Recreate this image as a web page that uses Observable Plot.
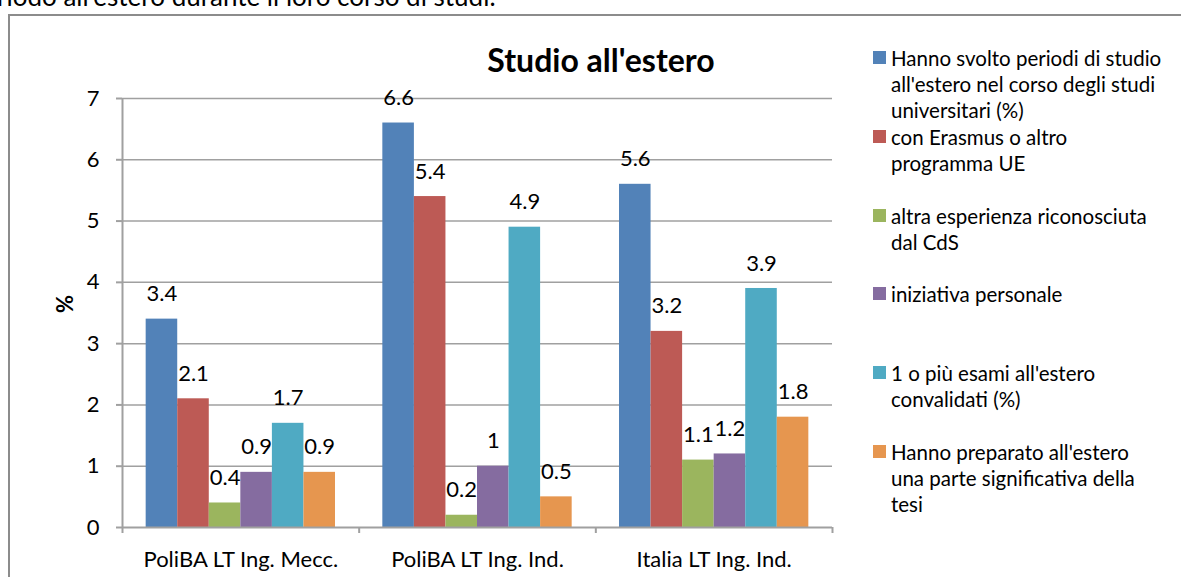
<!DOCTYPE html>
<html><head><meta charset="utf-8">
<script src="https://cdn.jsdelivr.net/npm/d3@7"></script>
<script src="https://cdn.jsdelivr.net/npm/@observablehq/plot@0.6"></script>
<style>
body{margin:0;background:#fff;font-family:Lato,"Open Sans",sans-serif;}
#wrap{position:relative;width:1181px;height:577px;overflow:hidden;}
#top{position:absolute;left:-3px;top:-17px;font-size:26px;line-height:26px;white-space:nowrap;color:#000;}
#frame{position:absolute;left:8px;top:14px;width:1200px;height:600px;border-left:2px solid #8c8c8c;border-top:2px solid #8c8c8c;}
#title{position:absolute;left:0;width:1202px;top:40px;text-align:center;font-size:32px;font-weight:bold;line-height:40px;}
#chart{position:absolute;left:0;top:0;}
#legend{position:absolute;left:873px;top:45px;font-size:20.5px;line-height:26px;}
.item{position:absolute;left:0;width:310px;}
.sw{position:absolute;left:0;top:6px;width:13px;height:13px;}
.lab{position:absolute;left:18px;top:0;width:300px;white-space:pre-line;}
</style></head>
<body>
<div id="wrap">
<div id="top">riodo all'estero durante il loro corso di studi.</div>
<div id="frame"></div>
<div id="chart"></div>
<div id="title">Studio all'estero</div>
<div id="legend"></div>
</div>
<script>
const categories = ["PoliBA LT Ing. Mecc.", "PoliBA LT Ing. Ind.", "Italia LT Ing. Ind."];
const legendLabels = [
  "Hanno svolto periodi di studio\nall'estero nel corso degli studi\nuniversitari (%)",
  "con Erasmus o altro\nprogramma UE",
  "altra esperienza riconosciuta\ndal CdS",
  "iniziativa personale",
  "1 o più esami all'estero\nconvalidati (%)",
  "Hanno preparato all'estero\nuna parte significativa della\ntesi"
];
const seriesNames = legendLabels.map(s => s.replace(/\n/g, " "));
const seriesColors = ["#5282b8", "#bd5a55", "#9bb55e", "#856ca0", "#4faac3", "#e6964f"];
const periodiEstero = [3.4, 6.6, 5.6];
const erasmus = [2.1, 5.4, 3.2];
const altraEsperienza = [0.4, 0.2, 1.1];
const iniziativaPersonale = [0.9, 1, 1.2];
const esamiConvalidati = [1.7, 4.9, 3.9];
const tesiEstero = [0.9, 0.5, 1.8];
const yTicks = [0, 1, 2, 3, 4, 5, 6, 7];

const seriesValues = [periodiEstero, erasmus, altraEsperienza, iniziativaPersonale, esamiConvalidati, tesiEstero];
const groupPad = 0.1, barW = 0.8 / seriesNames.length;
const data = [];
categories.forEach((c, ci) => {
  seriesValues.forEach((vals, si) => {
    const x1 = ci + groupPad + si * barW;
    data.push({cat: c, series: seriesNames[si], si, value: vals[ci], x1, x2: x1 + barW, xm: x1 + barW / 2});
  });
});

const grey = "#a0a0a0";
const FS = 22;
const plot = Plot.plot({
  width: 1181, height: 577,
  marginLeft: 122, marginRight: 349, marginTop: 98, marginBottom: 50,
  style: {fontFamily: "Lato, 'Open Sans', sans-serif", fontSize: FS + "px", background: "transparent", color: "#000"},
  x: {type: "linear", domain: [0, categories.length], axis: null},
  y: {type: "linear", domain: [0, 7], axis: null},
  color: {domain: seriesNames, range: seriesColors},
  marks: [
    Plot.ruleY(yTicks.slice(1), {y: d => d, stroke: grey, strokeWidth: 1.5, strokeOpacity: 1}),
    Plot.rect(data, {x1: "x1", x2: "x2", y1: d => 0, y2: "value", fill: "series"}),
    Plot.text(data, {x: "xm", y: "value", text: d => String(d.value), dy: -25, fontSize: FS, fill: "#000"}),
    Plot.ruleX([0], {x: d => d, stroke: grey, strokeWidth: 2, strokeOpacity: 1}),
    Plot.ruleY([0], {y: d => d, stroke: grey, strokeWidth: 2, strokeOpacity: 1}),
    Plot.axisY({ticks: yTicks, tickSize: 6, tickPadding: 17, stroke: grey, strokeWidth: 2, strokeOpacity: 1, fontSize: FS, label: null, tickFormat: d => String(d)}),
    Plot.axisX({ticks: d3.range(categories.length + 1), tickSize: 6, tickFormat: () => "", stroke: grey, strokeWidth: 2, strokeOpacity: 1, label: null}),
    Plot.axisX({ticks: categories.map((c, i) => i + 0.5), tickSize: 0, tickPadding: 24, tickFormat: d => categories[Math.floor(d)], fontSize: FS, label: null}),
    Plot.text(["%"], {frameAnchor: "left", dx: -57, rotate: -90, fontWeight: "bold", fontSize: FS, fill: "#000"})
  ]
});
document.getElementById("chart").appendChild(plot);

const legend = document.getElementById("legend");
const legendTops = [0, 79, 158, 236, 315, 394];
legendLabels.forEach((n, i) => {
  const it = document.createElement("div");
  it.className = "item";
  it.style.top = legendTops[i] + "px";
  it.innerHTML = `<div class="sw" style="background:${seriesColors[i]}"></div><div class="lab"></div>`;
  it.querySelector(".lab").textContent = n;
  legend.appendChild(it);
});
</script>
</body></html>
